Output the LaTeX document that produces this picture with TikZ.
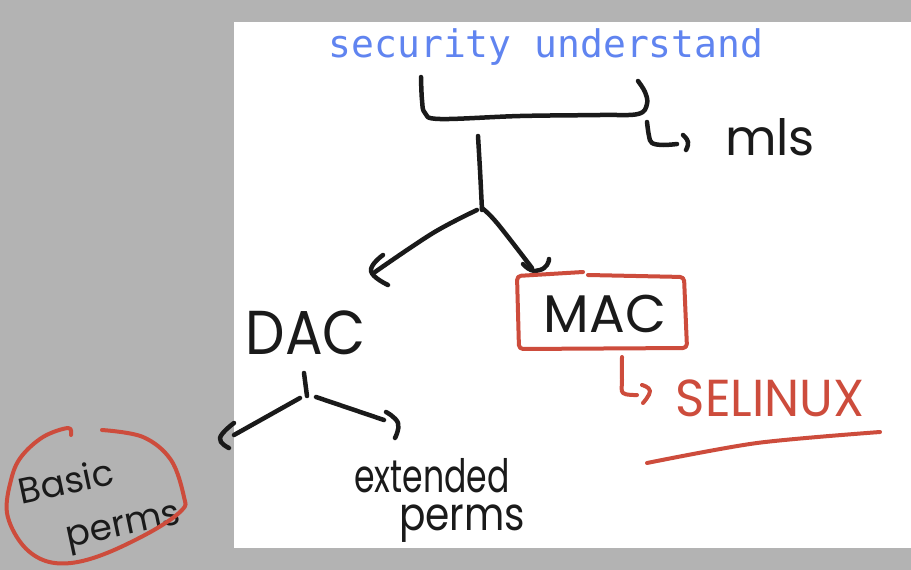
\documentclass[tikz,border=0pt]{standalone}
\usepackage{fontspec}
\usepackage{graphicx}
\newfontfamily\hand{Poppins}
\newfontfamily\monofnt{DejaVu Sans Mono}
\definecolor{bggray}{RGB}{179,179,179}
\definecolor{ink}{RGB}{26,26,26}
\definecolor{redink}{RGB}{205,76,60}
\definecolor{titleblue}{RGB}{96,132,240}
\tikzset{
  pen/.style={draw=ink, line width=4.5pt, line cap=round, line join=round},
  redpen/.style={draw=redink, line width=4pt, line cap=round, line join=round},
  handtext/.style={inner sep=0pt, text=ink, font=\hand},
  redtext/.style={inner sep=0pt, text=redink, font=\hand},
}
\begin{document}
\begin{tikzpicture}[x=1pt,y=-1pt]
\useasboundingbox (0,0) rectangle (911,570);
\fill[bggray] (0,0) rectangle (911,570);
\fill[white] (234,22) rectangle (911,548);

% title
\node[inner sep=0pt, text=titleblue, font=\monofnt\fontsize{38}{38}\selectfont] (title) at (546,47) {security understand};

% bracket under title
\draw[pen] plot[smooth, tension=0.6] coordinates {(421,77) (422,100) (425,113) (440,119) (520,116) (600,115) (638,114) (647,104) (645,92) (638,81)};

% hook to mls
\coordinate (mlsA) at (647,122);
\draw[pen] plot[smooth, tension=0.6] coordinates {(mlsA) (649,136) (652,143) (663,145) (677,144)};
\draw[pen] plot[smooth, tension=0.8] coordinates {(683,135) (688,142) (686,150)};
\node[handtext, font=\hand\fontsize{50}{50}\selectfont] (mls) at (770,137) {mls};

% stem and branches
\coordinate (stemtop) at (478,136);
\coordinate (junction) at (482,210);
\draw[pen] plot[smooth] coordinates {(stemtop) (480,170) (482,210)};
\node[handtext, font=\hand\fontsize{62}{62}\selectfont] (dac) at (306,333) {\scalebox{0.9}[1]{DAC}};
\node[handtext, font=\hand\fontsize{53}{53}\selectfont] (mac) at (605,314) {MAC};
\coordinate (dacTip) at (375,272);
\coordinate (macTip) at (532,268);
\draw[pen] plot[smooth, tension=0.6] coordinates {(477,210) (433,233) (dacTip)};
\draw[pen] plot[smooth, tension=0.8] coordinates {(383,255) (371,271) (388,285)};
\draw[pen] plot[smooth, tension=0.6] coordinates {(482,208) (497,223) (macTip)};
\draw[pen] plot[smooth, tension=0.8] coordinates {(523,264) (531,270) (540,270) (547,265) (549,259)};

% MAC box
\draw[redpen, rounded corners=4pt] (588,275) -- (684,277) -- (687,348) -- (519,349) -- (517,276) -- (583,272);

% SELinux hook and text
\draw[redpen] plot[smooth, tension=0.6] coordinates {(622,357) (622,380) (623,393) (637,395)};
\draw[redpen] plot[smooth, tension=0.8] coordinates {(642,385) (650,391) (643,403)};
\node[redtext, font=\hand\fontsize{52}{52}\selectfont] (selinux) at (770,398) {\scalebox{0.96}[1]{SELINUX}};
\draw[redpen] plot[smooth, tension=0.5] coordinates {(647,463) (757,443) (880,432)};

% DAC branches
\coordinate (dstemtop) at (304,373);
\coordinate (djunction) at (307,396);
\draw[pen] (dstemtop) -- (djunction);
\draw[pen] (300,398) -- (234,435);
\draw[pen] plot[smooth, tension=0.8] coordinates {(234,423) (220,438) (229,448)};
\draw[pen] (316,397) -- (384,420);
\draw[pen] plot[smooth, tension=0.8] coordinates {(386,412) (398,423) (395,438)};

% extended perms
\node[handtext, font=\hand\fontsize{46}{46}\selectfont] (ext) at (432,476) {\scalebox{0.72}[1]{extended}};
\node[handtext, font=\hand\fontsize{46}{46}\selectfont] (extp) at (462,524) {\scalebox{0.85}[1]{perms}};

% Basic perms circled
\node[handtext, font=\hand\fontsize{36}{36}\selectfont, rotate=12] (basic) at (66,481) {Basic};
\node[handtext, font=\hand\fontsize{36}{36}\selectfont, rotate=12] (bperms) at (124,530) {perms};
\draw[redpen] plot[smooth, tension=0.6] coordinates {(102,430) (143,437) (171,460) (184,497) (182,510) (154,530) (107,553) (71,563) (43,560) (21,543) (7,513) (11,480) (21,457) (43,437) (68,428) (71,435)};
\end{tikzpicture}
\end{document}
